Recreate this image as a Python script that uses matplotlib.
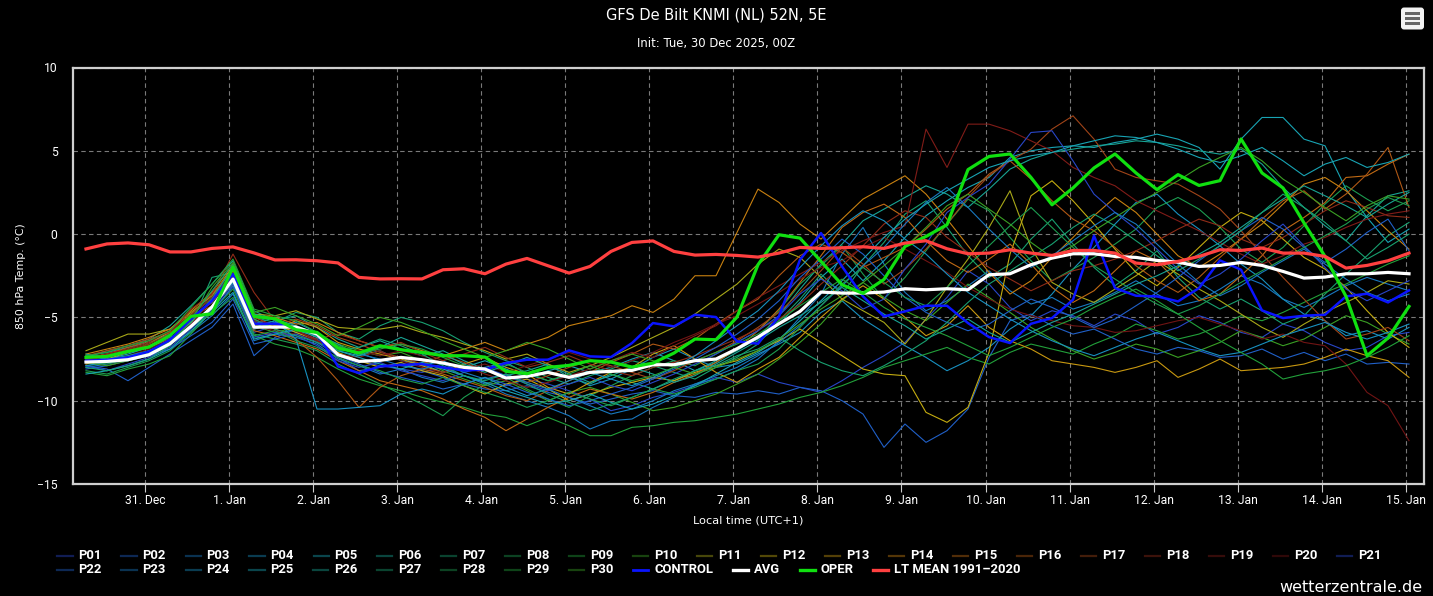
import pandas as pd
import matplotlib
matplotlib.use("Agg")
import matplotlib.pyplot as plt
from matplotlib.lines import Line2D
from matplotlib.patches import FancyBboxPatch, Rectangle
from matplotlib.colors import to_rgb

# ---- data (850 hPa temperature, degC, 6-hourly) ----
times = pd.date_range("2025-12-30 07:00", periods=64, freq="6h")
day_ticks = pd.date_range("2025-12-31", "2026-01-15", freq="D")
day_labels = [f"{d.day}. {d.strftime('%b')}" for d in day_ticks]

lt_mean = [-0.89, -0.59, -0.53, -0.64, -1.07, -1.07, -0.86, -0.77, -1.13, -1.55, -1.54, -1.60, -1.73, -2.60, -2.69, -2.68,
           -2.69, -2.14, -2.08, -2.38, -1.80, -1.46, -1.90, -2.34, -1.94, -1.04, -0.50, -0.41, -1.04, -1.26, -1.22, -1.28,
           -1.38, -1.14, -0.80, -0.86, -0.82, -0.76, -0.86, -0.54, -0.40, -0.88, -1.18, -1.14, -0.94, -1.14, -1.28, -0.98,
           -0.98, -1.14, -1.74, -1.84, -1.64, -1.34, -0.94, -0.98, -0.84, -1.14, -1.14, -1.34, -2.04, -1.88, -1.60, -1.14]

avg = [-7.68, -7.64, -7.54, -7.24, -6.58, -5.54, -4.38, -2.70, -5.58, -5.58, -5.58, -6.00, -7.24, -7.64, -7.58, -7.40,
       -7.54, -7.74, -8.00, -8.10, -8.64, -8.54, -8.30, -8.60, -8.30, -8.24, -8.18, -7.84, -7.84, -7.60, -7.50, -6.88,
       -6.18, -5.38, -4.64, -3.48, -3.54, -3.54, -3.48, -3.28, -3.34, -3.28, -3.34, -2.44, -2.38, -1.84, -1.44, -1.18,
       -1.18, -1.34, -1.40, -1.58, -1.68, -1.94, -1.88, -1.70, -1.88, -2.24, -2.64, -2.58, -2.38, -2.38, -2.30, -2.38]

oper = [-7.40, -7.34, -7.04, -6.78, -6.08, -4.94, -4.78, -1.98, -4.94, -5.08, -5.74, -5.90, -6.84, -7.14, -6.70, -6.94,
        -7.10, -7.30, -7.30, -7.38, -8.24, -8.38, -8.00, -7.88, -7.60, -7.68, -7.98, -7.74, -7.14, -6.30, -6.34, -4.98,
        -1.84, -0.04, -0.24, -1.64, -3.04, -3.56, -2.72, -0.74, -0.14, 0.56, 3.87, 4.66, 4.81, 3.40, 1.76, 2.77,
        3.97, 4.81, 3.67, 2.67, 3.57, 2.92, 3.21, 5.71, 3.67, 2.77, 0.67, -1.34, -3.74, -7.30, -6.24, -4.34]

control = [-7.60, -7.55, -7.40, -7.05, -6.35, -5.10, -4.00, -2.40, -5.38, -5.38, -5.64, -5.94, -7.94, -8.34, -7.94, -7.85,
           -7.80, -8.00, -8.18, -8.14, -7.74, -7.54, -7.54, -6.98, -7.34, -7.38, -6.54, -5.34, -5.54, -4.84, -4.98, -6.44,
           -6.58, -4.94, -1.54, 0.06, -1.94, -3.74, -4.94, -4.64, -4.30, -4.30, -5.34, -6.18, -6.54, -5.38, -5.04, -3.94,
           -0.10, -3.24, -3.70, -3.74, -4.04, -3.24, -1.58, -2.14, -4.58, -5.04, -4.90, -4.84, -3.74, -3.58, -4.10, -3.38]

p01 = [-7.5, -7.7, -7.4, -7.0, -6.4, -5.6, -4.6, -3.2, -5.9, -5.5, -5.9, -6.3, -7.2, -7.6, -7.9, -8.1,
       -8.3, -8.0, -8.5, -8.9, -9.1, -8.7, -9.0, -9.4, -9.9, -10.6, -10.3, -9.8, -9.5, -9.1, -8.6, -8.9,
       -8.4, -8.9, -9.2, -9.5, -8.8, -8.0, -7.3, -6.5, -5.1, -3.8, -2.2, -3.0, -4.4, -5.2, -4.6, -4.9,
       -5.5, -4.8, -5.2, -6.0, -5.6, -4.9, -5.3, -5.9, -6.2, -5.4, -5.8, -6.5, -7.0, -6.8, -6.1, -5.9]
p02 = [-7.9, -8.1, -8.8, -8.0, -7.2, -6.4, -5.6, -4.2, -7.3, -6.2, -5.7, -6.1, -7.4, -8.2, -8.0, -7.8,
       -8.2, -8.6, -9.0, -9.3, -9.4, -9.1, -9.5, -9.8, -10.2, -9.9, -9.6, -9.4, -9.7, -9.8, -9.5, -9.6,
       -9.4, -9.6, -9.2, -9.4, -10.0, -10.8, -12.8, -11.4, -12.5, -11.8, -10.5, -7.4, -5.2, -4.8, -5.5, -6.0,
       -5.7, -6.3, -6.9, -7.2, -6.8, -7.0, -7.4, -7.3, -6.9, -7.5, -7.1, -7.6, -7.2, -7.8, -7.7, -7.8]
p03 = [-8.0, -7.8, -7.5, -7.2, -6.6, -5.9, -4.9, -3.6, -6.4, -6.0, -6.2, -6.6, -7.5, -7.9, -8.4, -8.1,
       -8.6, -8.9, -8.5, -9.0, -9.6, -10.0, -10.4, -10.9, -11.7, -11.2, -11.1, -10.4, -9.8, -9.0, -8.7, -8.2,
       -7.5, -6.4, -5.0, -3.6, -1.2, 0.4, -1.8, -3.5, -4.6, -4.0, -3.1, -2.2, -3.4, -4.2, -3.8, -4.5,
       -4.1, -3.5, -2.8, -3.6, -4.3, -4.0, -3.3, -2.5, -3.0, -3.9, -4.4, -3.8, -3.1, -2.6, -3.0, -3.4]
p04 = [-7.3, -7.1, -6.8, -6.5, -6.0, -5.0, -4.1, -2.4, -5.2, -5.6, -5.3, -5.9, -6.8, -7.1, -7.6, -7.4,
       -7.9, -7.6, -8.2, -8.0, -7.7, -8.4, -8.8, -8.5, -9.1, -8.7, -8.1, -7.4, -6.9, -7.5, -8.0, -7.8,
       -7.2, -6.6, -5.9, -4.7, -4.0, -5.1, -5.9, -6.7, -7.4, -8.2, -7.6, -6.8, -5.7, -4.9, -3.6, -2.1,
       -0.8, 0.6, 1.9, 2.4, 1.2, 0.3, -0.7, -1.8, -2.7, -3.9, -4.8, -5.2, -6.1, -5.8, -6.3, -5.6]
p05 = [-7.7, -7.5, -7.2, -6.8, -6.1, -4.9, -3.8, -2.0, -5.4, -5.0, -5.8, -6.1, -7.0, -7.3, -7.0, -7.6,
       -7.8, -8.3, -8.0, -7.6, -8.1, -8.6, -8.2, -7.9, -8.3, -8.0, -7.5, -7.1, -7.6, -8.2, -7.7, -6.9,
       -6.3, -5.4, -4.1, -2.6, -1.5, -2.8, -1.6, -0.2, 1.1, 2.0, 2.8, 3.4, 4.6, 5.0, 5.2, 5.3,
       5.2, 5.5, 5.7, 6.0, 5.7, 5.2, 3.9, 5.7, 7.0, 7.0, 5.7, 5.3, 2.7, 1.0, -0.5, 0.3]
p06 = [-7.4, -7.0, -6.7, -6.3, -5.5, -4.3, -3.0, -1.6, -4.6, -5.2, -4.9, -5.6, -6.3, -6.8, -6.4, -6.9,
       -7.3, -7.0, -7.6, -8.1, -8.5, -8.2, -7.8, -8.6, -9.0, -8.4, -8.9, -9.3, -8.8, -8.2, -7.6, -7.0,
       -6.2, -4.9, -3.3, -1.8, -0.6, 0.8, 1.5, 2.2, 2.9, 2.4, 1.6, 2.7, 3.9, 4.5, 4.9, 5.1,
       5.3, 5.4, 5.6, 5.5, 5.3, 5.0, 4.8, 5.1, 4.2, 2.8, 1.6, 0.5, -0.4, 1.1, 2.3, 2.6]
p07 = [-7.9, -7.7, -7.6, -7.3, -6.7, -5.4, -2.6, -2.3, -5.0, -5.3, -4.7, -5.0, -5.9, -6.3, -5.5, -5.0,
       -5.3, -5.8, -6.5, -7.1, -7.6, -8.0, -8.6, -9.0, -8.5, -8.1, -7.6, -7.9, -8.3, -8.7, -8.0, -7.4,
       -6.6, -5.2, -3.9, -2.4, -3.6, -1.9, -0.5, 1.2, 2.0, 0.4, -1.3, -2.6, -1.8, -0.3, 0.9, -0.6,
       -2.0, -3.1, -2.2, -1.0, -2.6, -3.8, -4.5, -3.9, -4.6, -5.4, -4.9, -3.6, -2.4, -1.3, -0.1, 0.7]
p08 = [-8.2, -8.4, -8.0, -7.6, -7.0, -5.9, -4.4, -2.9, -6.0, -6.3, -6.6, -7.0, -7.8, -8.4, -9.0, -9.6,
       -10.2, -10.9, -9.8, -9.0, -8.6, -9.3, -9.9, -10.4, -9.7, -9.1, -8.5, -8.0, -7.6, -7.9, -7.2, -6.5,
       -5.8, -4.6, -3.0, -1.9, -0.7, -2.4, -3.9, -2.6, -1.0, 0.6, 2.1, 1.4, -0.2, -1.6, -2.8, -2.1,
       -1.4, -0.6, 0.3, 1.6, 2.2, 1.5, 0.4, -0.9, -1.7, -0.8, 0.5, 1.8, 2.9, 2.1, 1.4, 2.0]
p09 = [-8.3, -8.5, -8.1, -7.8, -7.3, -6.0, -4.6, -3.3, -6.1, -6.6, -6.9, -7.4, -8.1, -8.7, -9.1, -9.4,
       -9.8, -10.1, -10.4, -10.8, -11.0, -11.5, -11.0, -11.5, -12.1, -12.1, -11.6, -11.5, -11.3, -11.2, -11.0, -10.8,
       -10.5, -10.2, -9.8, -9.5, -9.1, -8.6, -8.0, -7.6, -7.2, -6.8, -7.4, -7.8, -7.1, -6.6, -6.9, -7.2,
       -6.6, -6.1, -5.4, -5.8, -6.3, -6.0, -5.5, -4.9, -5.2, -4.7, -4.1, -3.5, -3.0, -2.4, -1.8, -1.3]
p10 = [-7.6, -7.3, -7.0, -6.6, -5.8, -4.8, -3.9, -2.6, -5.5, -5.9, -5.6, -6.2, -6.6, -7.0, -7.3, -7.1,
       -7.6, -8.2, -8.7, -9.1, -8.8, -9.4, -10.0, -9.5, -9.2, -9.6, -10.1, -10.6, -10.4, -10.0, -9.6, -9.0,
       -8.4, -7.5, -6.5, -5.4, -4.0, -2.9, -3.8, -4.6, -5.2, -4.1, -3.0, -3.8, -4.7, -5.6, -6.3, -7.0,
       -7.5, -7.1, -6.6, -6.9, -7.4, -7.0, -6.5, -5.8, -6.2, -6.7, -6.3, -5.6, -4.9, -5.3, -6.0, -6.6]
p11 = [-7.0, -6.5, -6.0, -6.0, -5.7, -4.7, -3.7, -1.9, -4.8, -4.9, -4.6, -5.1, -5.6, -5.7, -5.7, -5.5,
       -5.9, -6.2, -6.6, -7.0, -7.5, -7.2, -7.8, -8.3, -7.9, -7.4, -6.8, -6.2, -5.6, -4.8, -3.9, -3.0,
       -1.8, -0.9, -1.4, -2.6, -3.9, -4.6, -5.3, -6.6, -5.1, -3.2, -1.5, 0.4, 2.6, -0.8, -2.9, -3.6,
       -4.1, -3.3, -2.5, -1.6, -2.4, -3.3, -4.0, -4.8, -5.6, -6.2, -5.4, -4.7, -4.1, -3.5, -2.8, -3.0]
p12 = [-7.8, -7.5, -7.1, -6.8, -6.3, -5.3, -4.4, -3.0, -5.7, -5.4, -5.9, -6.4, -7.1, -7.6, -8.0, -7.7,
       -8.2, -8.5, -9.1, -9.6, -9.0, -8.7, -9.3, -10.0, -9.6, -9.2, -8.9, -8.6, -8.8, -8.3, -7.9, -7.6,
       -7.0, -6.4, -5.7, -6.5, -7.3, -8.1, -8.4, -8.5, -10.7, -11.3, -10.4, -7.1, -1.2, 2.3, 3.2, 2.0,
       0.6, -0.9, -2.3, -3.1, -2.0, -0.8, 0.4, 1.3, 0.8, -0.3, -1.4, -2.1, -3.2, -4.6, -5.9, -6.8]
p13 = [-7.5, -7.2, -6.9, -6.5, -5.9, -5.1, -4.0, -2.2, -5.1, -5.7, -5.2, -5.6, -6.5, -6.9, -7.2, -7.5,
       -7.9, -8.3, -7.8, -7.4, -8.0, -8.4, -9.2, -9.6, -8.9, -8.3, -8.0, -7.2, -6.7, -7.5, -8.3, -8.9,
       -8.1, -7.4, -6.2, -5.0, -3.9, -3.1, -3.9, -5.0, -6.1, -5.5, -4.3, -5.6, -6.4, -6.9, -7.6, -7.8,
       -8.0, -8.3, -8.0, -7.6, -8.6, -8.1, -7.5, -8.2, -8.1, -8.0, -7.8, -7.4, -6.9, -7.3, -7.6, -8.6]
p14 = [-7.2, -6.9, -6.6, -6.2, -5.7, -4.6, -3.5, -1.8, -4.9, -5.0, -5.4, -5.3, -5.9, -6.4, -6.8, -6.6,
       -7.0, -7.3, -6.9, -6.5, -7.0, -6.6, -6.2, -5.5, -5.2, -4.9, -4.3, -4.7, -3.9, -2.5, -2.5, 0.1,
       2.7, 1.9, 0.6, -0.3, 0.9, 2.1, 2.8, 3.5, 2.4, 0.9, -0.7, -2.3, -3.6, -2.8, -1.4, -0.2,
       1.1, 2.2, 1.3, 0.0, -1.3, -2.0, -1.2, -0.3, 0.6, 1.8, 3.0, 3.4, 2.6, 1.4, 0.2, -0.9]
p15 = [-7.7, -7.4, -7.0, -6.7, -6.1, -5.0, -4.3, -2.7, -5.8, -6.1, -6.5, -6.9, -7.6, -8.2, -8.8, -9.1,
       -9.4, -9.9, -10.5, -11.0, -11.8, -11.1, -10.4, -9.8, -9.3, -9.6, -9.9, -9.5, -8.9, -8.4, -7.7, -6.9,
       -5.8, -4.5, -2.9, -1.3, 0.4, 1.3, 1.8, 1.0, -0.4, -1.6, -2.3, -1.5, -0.6, -1.8, -3.2, -4.1,
       -3.4, -2.2, -1.0, -1.6, -2.9, -4.0, -3.6, -2.5, -1.3, 0.2, 1.0, 1.9, 3.4, 3.5, 4.2, 4.8]
p16 = [-7.4, -7.2, -6.8, -6.4, -5.8, -4.8, -3.6, -2.1, -5.3, -5.7, -6.3, -7.4, -8.8, -10.4, -9.2, -8.5,
       -8.1, -8.4, -8.8, -9.2, -9.7, -10.0, -9.4, -8.8, -8.3, -7.7, -7.2, -6.6, -6.9, -6.3, -5.4, -4.6,
       -3.9, -2.5, -1.3, -0.6, -1.1, -2.0, -1.4, -0.8, 0.3, 1.5, 2.4, 3.6, 4.4, 3.3, 2.0, 0.9,
       0.2, -0.8, -1.9, -2.8, -3.5, -2.6, -1.4, -0.3, 0.9, 2.0, 2.6, 1.5, 2.4, 3.6, 5.2, 1.6]
p17 = [-7.3, -7.0, -6.7, -6.3, -5.9, -5.1, -4.1, -2.5, -5.0, -5.5, -5.1, -5.5, -6.2, -6.6, -7.1, -7.4,
       -7.8, -7.3, -7.7, -8.2, -8.6, -8.9, -8.5, -8.0, -7.6, -7.9, -8.3, -8.7, -8.2, -7.6, -7.1, -6.4,
       -5.6, -4.7, -3.5, -2.2, -0.8, -1.8, -3.0, -2.1, -0.9, 0.6, 2.2, 3.5, 4.4, 5.1, 6.3, 7.1,
       5.7, 3.9, 3.4, 3.2, 3.0, 2.3, 1.5, 0.2, -1.2, -2.6, -3.9, -5.2, -6.3, -6.0, -5.6, -6.4]
p18 = [-7.6, -7.3, -7.0, -6.6, -6.0, -4.5, -3.6, -1.2, -3.5, -5.2, -5.8, -6.3, -6.0, -6.4, -6.8, -6.5,
       -7.1, -7.6, -7.2, -6.8, -7.4, -8.0, -7.7, -7.3, -7.8, -8.2, -8.5, -8.0, -7.7, -7.3, -6.8, -6.3,
       -5.7, -5.1, -4.2, -3.0, -1.9, -0.7, 0.6, 1.4, 1.0, -0.2, -1.1, -2.0, -2.7, -3.4, -2.8, -2.2,
       -1.9, -1.5, -1.0, -0.4, 0.3, 0.9, 0.5, -0.3, -0.8, -0.2, 0.6, 1.4, 2.0, 1.6, 1.1, 1.0]
p19 = [-7.5, -7.2, -6.9, -6.5, -5.8, -4.9, -3.8, -2.3, -5.2, -5.4, -5.8, -6.4, -7.2, -7.4, -7.0, -7.6,
       -8.0, -8.3, -7.9, -8.4, -8.8, -9.2, -8.9, -8.5, -8.1, -7.6, -7.1, -7.4, -6.7, -6.1, -5.5, -4.6,
       -3.8, -3.1, -2.4, -1.7, -1.0, -0.4, 0.1, 0.5, 6.3, 4.0, 6.6, 6.6, 6.2, 5.6, 5.0, 4.0,
       3.4, 2.9, 2.0, 1.4, 0.8, 0.2, -0.5, -1.2, -1.8, -1.3, -0.6, -0.2, 0.4, 0.9, 1.2, 1.4]
p20 = [-7.4, -7.6, -7.3, -6.9, -6.3, -5.4, -4.0, -2.6, -5.5, -5.8, -6.0, -6.4, -6.9, -7.0, -7.3, -7.0,
       -7.3, -7.7, -8.1, -7.8, -8.3, -7.9, -7.5, -7.1, -7.5, -8.0, -7.6, -7.1, -6.5, -6.0, -5.4, -4.9,
       -4.2, -3.5, -2.7, -2.0, -1.6, -0.8, -0.2, -0.9, -1.6, -2.3, -3.2, -3.9, -4.5, -4.9, -5.2, -5.5,
       -5.6, -5.9, -5.8, -5.5, -5.2, -5.0, -5.4, -5.8, -6.3, -6.0, -6.5, -6.7, -7.8, -9.5, -10.3, -12.4]
p21 = [-7.9, -8.2, -7.8, -7.4, -6.8, -5.7, -4.5, -3.0, -6.2, -5.9, -6.1, -6.7, -7.6, -8.0, -7.7, -8.2,
       -8.5, -8.8, -8.3, -8.0, -8.5, -9.0, -9.4, -9.0, -8.6, -9.1, -9.4, -8.9, -8.4, -7.8, -7.2, -6.5,
       -5.8, -4.9, -3.6, -2.7, -3.4, -4.5, -3.9, -2.1, -0.6, 1.3, 2.2, 3.0, 4.5, 6.1, 6.2, 4.4,
       2.4, 1.3, 0.3, -0.9, -2.1, -3.0, -2.4, -1.5, -0.4, 0.6, -0.7, -2.0, -3.3, -4.0, -3.4, -2.8]
p22 = [-8.1, -7.9, -7.6, -7.3, -6.9, -6.1, -5.3, -3.9, -6.6, -6.3, -6.0, -6.5, -7.3, -7.8, -8.3, -8.6,
       -8.9, -9.3, -9.0, -8.6, -9.0, -9.5, -9.9, -10.3, -10.0, -9.6, -9.2, -8.7, -8.1, -7.5, -6.8, -6.0,
       -5.1, -4.0, -2.6, -1.5, -0.3, -1.2, -2.5, -3.8, -4.7, -5.3, -5.8, -5.4, -4.6, -3.9, -4.4, -5.0,
       -5.6, -5.1, -4.3, -3.5, -2.6, -1.6, -0.7, 0.2, 1.0, 0.3, -0.8, -1.7, -0.9, 0.1, 0.9, -1.0]
p23 = [-7.7, -7.4, -7.1, -6.8, -6.2, -5.6, -4.7, -3.1, -5.7, -5.3, -5.6, -6.1, -6.7, -7.2, -7.5, -7.9,
       -8.1, -7.8, -8.3, -8.7, -8.4, -8.9, -9.3, -9.8, -10.3, -10.8, -10.5, -10.0, -9.4, -9.0, -8.5, -8.0,
       -7.3, -6.5, -5.5, -4.3, -3.1, -1.9, -0.8, 0.6, 1.9, 2.8, 1.6, 0.3, -0.9, -2.0, -1.3, -0.4,
       0.5, 1.3, 0.6, -0.6, -1.8, -2.9, -3.7, -3.1, -2.3, -1.6, -0.9, -1.8, -2.7, -3.5, -4.0, -3.6]
p24 = [-7.9, -7.7, -7.5, -7.1, -6.5, -5.5, -4.3, -2.9, -5.6, -5.2, -6.3, -10.5, -10.5, -10.4, -10.3, -9.6,
       -9.3, -9.6, -9.0, -8.6, -9.2, -9.7, -9.3, -8.8, -8.3, -8.7, -9.1, -8.6, -8.0, -7.3, -6.4, -5.5,
       -4.6, -3.4, -2.0, -0.7, 0.5, 1.4, 0.8, -0.3, -1.2, -2.4, -3.5, -4.3, -5.1, -5.8, -6.4, -6.9,
       -7.3, -6.8, -6.3, -5.9, -6.4, -6.9, -7.3, -7.1, -6.6, -6.1, -5.7, -5.3, -5.9, -6.3, -5.9, -5.4]
p25 = [-8.4, -8.2, -7.9, -7.5, -6.9, -5.8, -4.7, -3.5, -6.3, -6.0, -5.7, -6.2, -7.0, -7.4, -7.8, -8.1,
       -7.7, -8.1, -8.5, -8.9, -9.4, -9.8, -10.2, -10.0, -9.6, -10.1, -10.5, -10.2, -9.7, -9.1, -8.4, -7.7,
       -7.1, -6.3, -5.2, -4.0, -2.8, -1.5, -0.2, 0.9, 1.8, 2.6, 3.3, 4.0, 4.4, 4.7, 4.9, 5.3,
       5.6, 5.9, 5.8, 5.5, 5.1, 4.6, 4.3, 4.7, 5.2, 4.4, 3.5, 4.2, 4.6, 4.0, 4.3, 4.8]
p26 = [-7.2, -7.5, -7.3, -7.0, -6.4, -5.3, -3.9, -2.0, -4.8, -5.1, -5.5, -6.0, -6.6, -7.3, -6.8, -6.2,
       -6.7, -7.2, -7.8, -8.3, -7.9, -7.4, -7.9, -8.4, -8.9, -8.5, -8.0, -8.4, -8.9, -8.5, -7.8, -7.1,
       -6.4, -5.6, -4.9, -4.1, -3.2, -4.0, -4.8, -5.5, -6.3, -5.7, -5.1, -5.9, -6.5, -5.9, -5.3, -4.8,
       -4.2, -3.6, -3.0, -2.5, -1.9, -1.2, -0.5, 0.4, 1.3, 2.1, 2.9, 2.3, 1.7, 1.0, 1.8, 2.5]
p27 = [-8.0, -8.2, -7.9, -7.5, -6.7, -5.1, -3.4, -1.8, -5.1, -5.7, -6.1, -6.5, -7.0, -6.8, -6.3, -6.7,
       -7.2, -7.9, -8.5, -8.8, -8.4, -9.0, -9.6, -10.1, -10.6, -10.2, -9.8, -9.3, -8.7, -8.2, -7.9, -7.3,
       -6.9, -6.2, -7.0, -7.7, -8.2, -8.5, -7.9, -7.2, -6.4, -5.3, -4.1, -3.0, -2.2, -1.4, -0.6, 0.4,
       1.2, 0.5, -0.4, -1.3, -2.2, -1.5, -0.7, 0.2, 1.3, 2.4, 1.6, 0.7, -0.4, -1.5, -0.8, 0.0]
p28 = [-7.6, -7.8, -7.5, -7.1, -6.4, -5.5, -4.8, -3.8, -6.1, -5.8, -6.4, -6.8, -7.4, -7.9, -8.2, -8.7,
       -9.0, -8.6, -9.1, -9.5, -9.9, -10.4, -10.0, -9.5, -9.9, -10.3, -9.8, -9.3, -9.6, -9.2, -8.7, -8.2,
       -7.8, -6.9, -5.6, -4.3, -3.0, -2.0, -2.9, -3.8, -4.3, -3.2, -1.9, -0.7, 0.5, 1.6, 0.4, -0.8,
       -1.9, -2.7, -3.5, -4.2, -4.8, -4.3, -3.6, -2.9, -2.2, -1.5, -0.8, -0.1, 0.6, 1.5, 2.2, 1.7]
p29 = [-7.3, -7.1, -6.7, -6.4, -5.8, -4.4, -3.0, -1.5, -4.5, -4.9, -5.2, -5.9, -6.7, -7.1, -6.9, -6.6,
       -6.9, -7.4, -7.9, -8.2, -7.8, -8.3, -8.8, -8.4, -7.9, -8.4, -8.8, -8.5, -8.0, -7.6, -7.1, -6.6,
       -6.0, -5.2, -4.3, -3.5, -2.7, -3.5, -4.4, -5.1, -5.6, -6.1, -6.7, -7.3, -6.8, -6.2, -5.6, -5.1,
       -4.4, -3.8, -3.3, -4.0, -4.8, -5.6, -6.4, -7.1, -7.8, -8.7, -8.4, -8.2, -7.9, -7.4, -6.8, -6.1]
p30 = [-7.7, -7.9, -7.6, -7.2, -6.5, -5.2, -3.2, -1.7, -4.7, -4.4, -4.9, -5.4, -6.1, -5.6, -5.0, -5.3,
       -5.8, -6.4, -6.9, -7.4, -7.0, -6.5, -6.9, -7.5, -8.1, -7.6, -7.2, -7.6, -8.0, -8.4, -8.0, -7.5,
       -7.0, -6.3, -5.4, -4.5, -3.7, -2.9, -1.9, -0.8, 0.4, 1.7, 2.4, 1.5, 0.6, -0.5, -1.4, -0.7,
       0.2, 1.0, 1.8, 2.5, 3.2, 4.0, 4.6, 5.2, 4.4, 3.3, 2.5, 1.6, 0.8, 1.7, 2.3, 2.1]

members = [p01, p02, p03, p04, p05, p06, p07, p08, p09, p10,
           p11, p12, p13, p14, p15, p16, p17, p18, p19, p20,
           p21, p22, p23, p24, p25, p26, p27, p28, p29, p30]
for k, m in enumerate(members):
    assert len(m) == len(times), (k + 1, len(m))

# member colours cycle every 20 members (blue -> teal -> green -> olive -> brown -> dark red)
member_palette = ["#2846c8", "#2060c8", "#1878c0", "#1890c0", "#18a4b4",
                  "#18a494", "#18a070", "#1c9c50", "#22a03a", "#3aa024",
                  "#a8a818", "#c4ac10", "#c89810", "#c88010", "#c06a14",
                  "#b05814", "#a04418", "#902c18", "#801c18", "#701414"]
CONTROL_C, AVG_C, OPER_C, LT_C = "#0a14ff", "#ffffff", "#10e010", "#ff4040"

W, H = 1433, 596
NARROW = ["Roboto", "DejaVu Sans"]
plt.rcParams["font.family"] = ["DejaVu Sans"]

fig = plt.figure(figsize=(W / 100, H / 100), dpi=100, facecolor="black")
ax = fig.add_axes([72.8 / W, 1 - 484 / H, (1424 - 72.8) / W, (484 - 67.5) / H])
ax.set_facecolor("black")

for k, vals in enumerate(members):
    ax.plot(times, vals, color=member_palette[k % 20], lw=0.8, zorder=2)
ax.plot(times, control, color=CONTROL_C, lw=1.8, zorder=3)
ax.plot(times, avg, color=AVG_C, lw=2.3, zorder=4)
ax.plot(times, oper, color=OPER_C, lw=2.3, zorder=5)
ax.plot(times, lt_mean, color=LT_C, lw=2.3, zorder=6)

ax.set_xlim(pd.Timestamp("2025-12-30 03:14"), pd.Timestamp("2026-01-15 05:17"))
ax.set_ylim(-15, 10)
ax.set_yticks([-15, -10, -5, 0, 5, 10])
ax.set_xticks(day_ticks)
ax.set_xticklabels(day_labels)

ax.set_axisbelow(True)
ax.grid(True, color="#7a7a7a", lw=0.8, linestyle=(0, (4, 3)))
for s in ax.spines.values():
    s.set_color("#cfcfcf")
    s.set_linewidth(1.6)
ax.tick_params(axis="x", colors="#cccccc", length=6, width=0.8, labelcolor="white", labelsize=8.7, pad=1.5)
ax.tick_params(axis="y", length=0, labelcolor="white", labelsize=8.7, pad=11)
for lbl in ax.get_xticklabels() + ax.get_yticklabels():
    lbl.set_family(NARROW)

ax.set_xlabel("Local time (UTC+1)", color="white", fontsize=8.2, labelpad=6)
ax.set_ylabel("850 hPa Temp. (°C)", color="white", fontsize=7.9, labelpad=8)

fig.text(0.5, 1 - 15 / H, "GFS De Bilt KNMI (NL) 52N, 5E", ha="center", va="center",
         color="white", fontsize=10.5)
fig.text(0.5, 1 - 43 / H, "Init: Tue, 30 Dec 2025, 00Z", ha="center", va="center",
         color="white", fontsize=8.4)
fig.text(1422 / W, 1 - 587 / H, "wetterzentrale.de", ha="right", va="center",
         color="white", fontsize=11.5)

# hamburger menu button (top right)
inch = fig.dpi_scale_trans
fig.add_artist(FancyBboxPatch((1401 / 100, (H - 29.5) / 100), 23 / 100, 22 / 100,
                              boxstyle="round,pad=0,rounding_size=0.03",
                              facecolor="#f2f2f2", edgecolor="none", transform=inch))
for yb in (13.3, 18.5, 23.8):
    fig.add_artist(Rectangle((1405 / 100, (H - yb - 1.4) / 100), 15 / 100, 2.8 / 100,
                             facecolor="#666666", edgecolor="none", transform=inch))

# legend, laid out like the original (two rows, packed left to right)
def darker(c, f=0.42):
    r, g, b = to_rgb(c)
    return (r * f, g * f, b * f)

row1 = [(f"P{k + 1:02d}", darker(member_palette[k % 20]), 1.6) for k in range(21)]
row2 = [(f"P{k + 1:02d}", darker(member_palette[k % 20]), 1.6) for k in range(21, 30)]
row2 += [("CONTROL", CONTROL_C, 2.0), ("AVG", AVG_C, 2.4), ("OPER", OPER_C, 2.4),
         ("LT MEAN 1991\u20132020", LT_C, 2.4)]

LEG_FS = 9.4
fig.canvas.draw()
renderer = fig.canvas.get_renderer()
probe = fig.text(0, 0, "P01", fontsize=LEG_FS, fontweight="bold", family=NARROW)
w_p = probe.get_window_extent(renderer).width
probe.remove()
item_gap = 64 - 21 - w_p


def place_row(items, y_px):
    x = 57.5
    yf = 1 - y_px / H
    for label, col, lw in items:
        fig.add_artist(Line2D([x / W, (x + 15) / W], [yf, yf], color=col, lw=lw,
                              transform=fig.transFigure))
        t = fig.text((x + 21) / W, yf, label, color="white", fontsize=LEG_FS,
                     fontweight="bold", family=NARROW, ha="left", va="center")
        x += 21 + t.get_window_extent(renderer).width + item_gap


place_row(row1, 555.5)
place_row(row2, 569.5)

fig.savefig("out.png", dpi=100, facecolor="black")
